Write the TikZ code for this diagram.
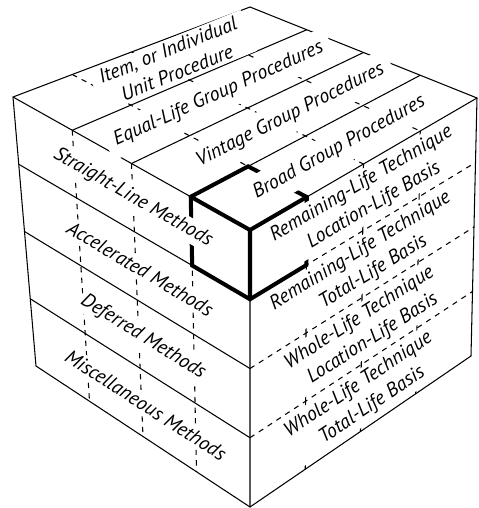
\documentclass[tikz,border=0pt]{standalone}
\usepackage{fontspec}
\setmainfont{PT Sans}
\usetikzlibrary{calc}
\begin{document}
\begin{tikzpicture}[x=0.02cm,y=-0.02cm,
  thinline/.style={line width=0.6pt},
  dashline/.style={line width=0.6pt,dash pattern=on 3pt off 3pt},
  boldline/.style={line width=2.3pt,line join=miter},
  lbl/.style={fill=white,inner sep=1.5pt,sloped,align=center,font=\itshape\fontsize{11.3}{14}\selectfont},
  toplbl/.style={lbl,inner xsep=5pt,minimum height=20pt},
  sidelbl/.style={lbl,inner xsep=3pt,inner ysep=2pt}]
\useasboundingbox (0,0) rectangle (479,508);
\coordinate (T) at (250,7);
\coordinate (L) at (13,97);
\coordinate (R) at (477,98);
\coordinate (F) at (250,230);
\coordinate (BL) at (36,366);
\coordinate (BF) at (250,507);
\coordinate (BR) at (471,356);
\draw[thinline] ($(L)!0.25!(F)$) -- ($(T)!0.25!(R)$) ($(L)!0.5!(F)$) -- ($(T)!0.5!(R)$) ($(L)!0.75!(F)$) -- ($(T)!0.75!(R)$);
\draw[dashline] ($(L)!0.25!(T)$) -- ($(F)!0.25!(R)$) ($(L)!0.5!(T)$) -- ($(F)!0.5!(R)$) ($(L)!0.75!(T)$) -- ($(F)!0.75!(R)$);
\draw[thinline] ($(L)!0.25!(BL)$) -- ($(F)!0.25!(BF)$) ($(L)!0.5!(BL)$) -- ($(F)!0.5!(BF)$) ($(L)!0.75!(BL)$) -- ($(F)!0.75!(BF)$);
\draw[dashline] ($(L)!0.25!(F)$) -- ($(BL)!0.25!(BF)$) ($(L)!0.5!(F)$) -- ($(BL)!0.5!(BF)$) ($(L)!0.75!(F)$) -- ($(BL)!0.75!(BF)$);
\draw[dashline] ($(F)!0.25!(BF)$) -- ($(R)!0.25!(BR)$) ($(F)!0.5!(BF)$) -- ($(R)!0.5!(BR)$) ($(F)!0.75!(BF)$) -- ($(R)!0.75!(BR)$);
\draw[thinline] ($(F)!0.25!(R)$) -- ($(BF)!0.25!(BR)$) ($(F)!0.5!(R)$) -- ($(BF)!0.5!(BR)$) ($(F)!0.75!(R)$) -- ($(BF)!0.75!(BR)$);
\draw[thinline] (L) -- (T) -- (R) -- (BR) -- (BF) -- (BL) -- cycle;
\draw[thinline] (L) -- (F) -- (R) (F) -- (BF);
\coordinate (sa) at ($(L)!0.75!(F)$);
\coordinate (sb) at ($(T)!0.75!(R)$);
\coordinate (da) at ($(L)!0.25!(T)$);
\coordinate (db) at ($(F)!0.25!(R)$);
\coordinate (sc) at ($(BL)!0.75!(BF)$);
\coordinate (se) at ($(BF)!0.25!(BR)$);
\coordinate (cb) at (intersection of sa--sb and da--db);
\coordinate (cl) at ($(sa)!0.25!(sc)$);
\coordinate (cr) at ($(db)!0.25!(se)$);
\coordinate (cf) at ($(F)!0.25!(BF)$);
\draw[boldline] (cb) -- (sa) -- (cl) -- (cf) -- (cr) -- (db) -- cycle;
\draw[boldline] (sa) -- (F) -- (db) (F) -- (cf);
\path ($(L)!0.125!(F)$) -- node[toplbl,pos=0.55] (item) {Item, or Individual\\Unit Procedure} ($(T)!0.125!(R)$);
\path ($(L)!0.375!(F)$) -- node[toplbl,pos=0.5] (equal) {Equal-Life Group Procedures} ($(T)!0.375!(R)$);
\path ($(L)!0.625!(F)$) -- node[toplbl,pos=0.56] (vintage) {Vintage Group Procedures} ($(T)!0.625!(R)$);
\path ($(L)!0.875!(F)$) -- node[toplbl,pos=0.52] (broad) {Broad Group Procedures} ($(T)!0.875!(R)$);
\path ($(L)!0.125!(BL)$) -- node[lbl,pos=0.5] (straight) {Straight-Line Methods} ($(F)!0.125!(BF)$);
\path ($(L)!0.375!(BL)$) -- node[lbl,pos=0.52] (accel) {Accelerated Methods} ($(F)!0.375!(BF)$);
\path ($(L)!0.625!(BL)$) -- node[lbl,pos=0.52] (deferred) {Deferred Methods} ($(F)!0.625!(BF)$);
\path ($(L)!0.875!(BL)$) -- node[lbl,pos=0.52] (misc) {Miscellaneous Methods} ($(F)!0.875!(BF)$);
\path ($(F)!0.125!(BF)$) -- node[sidelbl,pos=0.52] (remloc) {Remaining-Life Technique\\Location-Life Basis} ($(R)!0.125!(BR)$);
\path ($(F)!0.375!(BF)$) -- node[sidelbl,pos=0.52] (remtot) {Remaining-Life Technique\\Total-Life Basis} ($(R)!0.375!(BR)$);
\path ($(F)!0.625!(BF)$) -- node[sidelbl,pos=0.52] (wholeloc) {Whole-Life Technique\\Location-Life Basis} ($(R)!0.625!(BR)$);
\path ($(F)!0.875!(BF)$) -- node[sidelbl,pos=0.52] (wholetot) {Whole-Life Technique\\Total-Life Basis} ($(R)!0.875!(BR)$);
\end{tikzpicture}
\end{document}
